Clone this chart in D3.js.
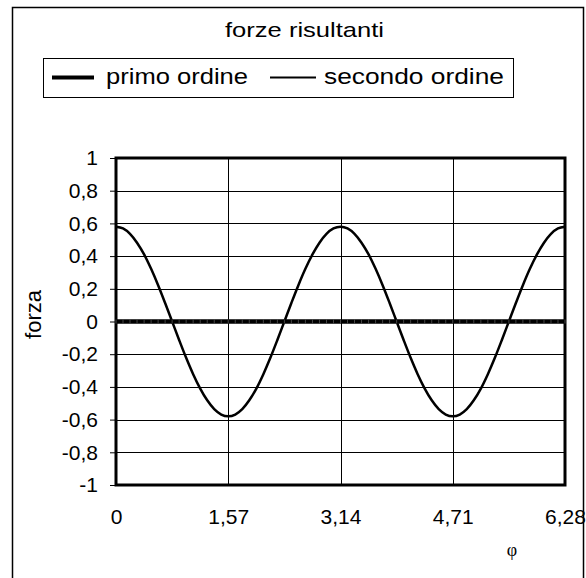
<!DOCTYPE html>
<html><head><meta charset="utf-8">
<script src="https://cdn.jsdelivr.net/npm/d3@7"></script>
<style>body{margin:0;background:#fff}svg{display:block}text{font-family:"Liberation Sans",Arial,sans-serif;fill:#000}</style>
</head><body>
<script>
const title = "forze risultanti";
const seriesNames = ["primo ordine", "secondo ordine"];
const phi = [0,0.098,0.196,0.294,0.393,0.491,0.589,0.687,0.785,0.883,0.981,1.079,1.178,1.276,1.374,1.472,1.570,
1.668,1.766,1.864,1.963,2.061,2.159,2.257,2.355,2.453,2.551,2.649,2.748,2.846,2.944,3.042,3.140,
3.238,3.336,3.434,3.533,3.631,3.729,3.827,3.925,4.023,4.121,4.219,4.318,4.416,4.514,4.612,4.710,
4.808,4.906,5.004,5.103,5.201,5.299,5.397,5.495,5.593,5.691,5.789,5.888,5.986,6.084,6.182,6.280];
const primoOrdine = [0,0,0,0,0,0,0,0,0,0,0,0,0,0,0,0,0,0,0,0,0,0,0,0,0,0,0,0,0,0,0,0,0,
0,0,0,0,0,0,0,0,0,0,0,0,0,0,0,0,0,0,0,0,0,0,0,0,0,0,0,0,0,0,0,0];
const secondoOrdine = [0.580,0.569,0.536,0.482,0.410,0.322,0.222,0.113,0,-0.113,-0.222,-0.322,-0.410,-0.482,-0.536,-0.569,-0.580,
-0.569,-0.536,-0.482,-0.410,-0.322,-0.222,-0.113,0,0.113,0.222,0.322,0.410,0.482,0.536,0.569,0.580,
0.569,0.536,0.482,0.410,0.322,0.222,0.113,0,-0.113,-0.222,-0.322,-0.410,-0.482,-0.536,-0.569,-0.580,
-0.569,-0.536,-0.482,-0.410,-0.322,-0.222,-0.113,0,0.113,0.222,0.322,0.410,0.482,0.536,0.569,0.580];
const xTicks = [0, 1.57, 3.14, 4.71, 6.28];
const xTickLabels = ["0","1,57","3,14","4,71","6,28"];
const yTicks = [-1,-0.8,-0.6,-0.4,-0.2,0,0.2,0.4,0.6,0.8,1];
const yTickLabels = ["-1","-0,8","-0,6","-0,4","-0,2","0","0,2","0,4","0,6","0,8","1"];
const xTitle = "φ", yTitle = "forza";

const W = 586, H = 578;
const svg = d3.select("body").append("svg").attr("width", W).attr("height", H);
const L = 116, R = 565, T = 158, B = 485;
const x = d3.scaleLinear().domain([0, 6.28]).range([L, R]);
const y = d3.scaleLinear().domain([-1, 1]).range([B, T]);

// outer border
svg.append("rect").attr("x", 12.5).attr("y", 7.5).attr("width", 571).attr("height", 580)
  .attr("fill", "none").attr("stroke", "#000").attr("stroke-width", 1.5);

// title
svg.append("text").attr("x", 225).attr("y", 37)
  .attr("textLength", 159).attr("lengthAdjust", "spacingAndGlyphs")
  .style("font-size", "21px").text(title);

// legend
const lg = svg.append("g");
lg.append("rect").attr("x", 43.5).attr("y", 58.5).attr("width", 470).attr("height", 39)
  .attr("fill", "none").attr("stroke", "#000").attr("stroke-width", 1);
lg.append("line").attr("x1", 52).attr("x2", 94).attr("y1", 77.5).attr("y2", 77.5).attr("stroke", "#000").attr("stroke-width", 4);
lg.append("text").attr("x", 106).attr("y", 84).attr("textLength", 142).attr("lengthAdjust", "spacingAndGlyphs")
  .style("font-size", "22px").text(seriesNames[0]);
lg.append("line").attr("x1", 270).attr("x2", 316).attr("y1", 77.5).attr("y2", 77.5).attr("stroke", "#000").attr("stroke-width", 2);
lg.append("text").attr("x", 324).attr("y", 84).attr("textLength", 180).attr("lengthAdjust", "spacingAndGlyphs")
  .style("font-size", "22px").text(seriesNames[1]);

// gridlines
const g = svg.append("g");
g.selectAll("line.h").data(yTicks).join("line").attr("class","h")
  .attr("x1", L).attr("x2", R).attr("y1", d => Math.round(y(d)) + 0.5).attr("y2", d => Math.round(y(d)) + 0.5)
  .attr("stroke", "#000").attr("stroke-width", 1);
g.selectAll("line.v").data(xTicks).join("line").attr("class","v")
  .attr("y1", T).attr("y2", B).attr("x1", d => Math.round(x(d)) + 0.5).attr("x2", d => Math.round(x(d)) + 0.5)
  .attr("stroke", "#000").attr("stroke-width", 1);

// y axis
const yAxis = d3.axisLeft(y).tickValues(yTicks).tickFormat((d,i) => yTickLabels[i]).tickSize(6).tickPadding(12);
const ya = svg.append("g").attr("transform", `translate(${L},0)`).call(yAxis);
ya.select(".domain").remove();
ya.selectAll("text").style("font-size", "21px").style("font-family", '"Liberation Sans",Arial,sans-serif');
ya.selectAll("line").attr("stroke", "#000");

// x axis labels
const xAxis = d3.axisBottom(x).tickValues(xTicks).tickFormat((d,i) => xTickLabels[i]).tickSize(0).tickPadding(24);
const xa = svg.append("g").attr("transform", `translate(0,${B})`).call(xAxis);
xa.select(".domain").remove();
xa.selectAll("text").style("font-size", "21px").style("font-family", '"Liberation Sans",Arial,sans-serif');

// plot border
svg.append("rect").attr("x", L).attr("y", T).attr("width", R - L).attr("height", B - T)
  .attr("fill", "none").attr("stroke", "#000").attr("stroke-width", 3);

// series
const line = d3.line().x((d,i) => x(phi[i])).y(d => y(d)).curve(d3.curveMonotoneX);
svg.append("path").datum(secondoOrdine).attr("d", line).attr("fill", "none")
  .attr("stroke", "#000").attr("stroke-width", 2.5);
svg.append("path").datum(primoOrdine).attr("d", line).attr("fill", "none")
  .attr("stroke", "#000").attr("stroke-width", 4.5);
// category ticks on zero line
svg.append("g").selectAll("line").data(phi).join("line")
  .attr("x1", d => x(d)).attr("x2", d => x(d)).attr("y1", y(0) - 2).attr("y2", y(0) + 2)
  .attr("stroke", "#555").attr("stroke-width", 0.8);

// axis titles
svg.append("text").attr("transform", `translate(41,${(T+B)/2 - 7}) rotate(-90)`).attr("text-anchor", "middle")
  .style("font-size", "22px").text(yTitle);
svg.append("text").attr("x", 512).attr("y", 556).attr("text-anchor", "middle")
  .style("font-family", '"Liberation Serif","Times New Roman",serif').style("font-size", "18px").text(xTitle);
</script>
</body></html>
